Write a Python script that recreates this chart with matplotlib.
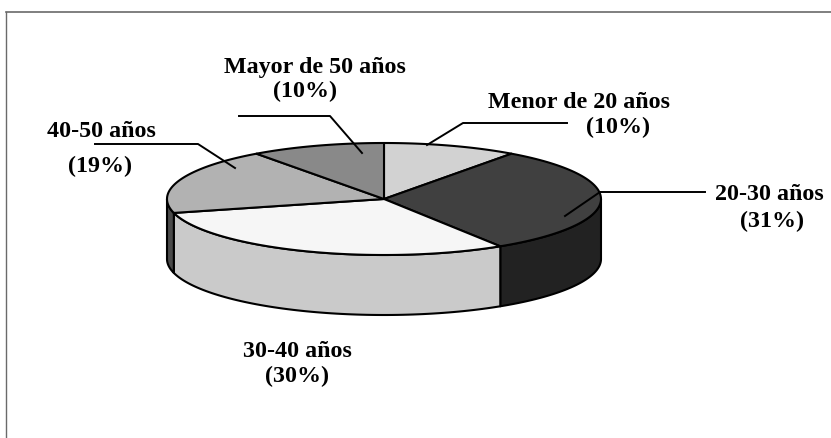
import matplotlib.pyplot as plt
import numpy as np
from matplotlib.patches import Polygon

# Age-group shares (%), clockwise from 12 o'clock
AGE_GROUPS = ["Menor de 20 años", "20-30 años", "30-40 años",
              "40-50 años", "Mayor de 50 años"]
SHARES = [10, 31, 30, 19, 10]

TOP_COLORS = ["#d2d2d2", "#404040", "#f6f6f6", "#b2b2b2", "#898989"]
SIDE_COLORS = ["#a8a8a8", "#222222", "#cacaca", "#4a4a4a", "#606060"]

# pie geometry in pixels (y grows downwards)
CX, CY, RX, RY, DEPTH = 384, 199, 217, 56, 60

# label layout in pixels: name line (x, baseline, ha), percent line (x, baseline)
NAME_POS = [(488, 108, "left"), (715, 200, "left"), (297, 357, "center"),
            (101, 137, "center"), (315, 73, "center")]
PCT_POS = [(618, 133), (772, 227), (297, 382), (100, 172), (305, 97)]
LEADERS = [
    [(427, 145), (463, 123), (567, 123)],
    [(565, 216), (600, 192), (705, 192)],
    None,
    [(235, 168), (198, 144), (95, 144)],
    [(362, 153), (330, 116), (239, 116)],
]

FONT = dict(family="Liberation Serif", weight="bold", size=17.3, color="black")


def arc(t0, t1, dy=0.0, n=80):
    t = np.radians(np.linspace(t0, t1, n))
    return np.column_stack([CX + RX * np.sin(t), CY - RY * np.cos(t) + dy])


def main():
    fig = plt.figure(figsize=(8.31, 4.38), dpi=100)
    ax = fig.add_axes([0, 0, 1, 1])
    ax.set_xlim(0, 831)
    ax.set_ylim(438, 0)
    ax.axis("off")

    # frame
    ax.plot([6, 831], [12, 12], color="#6a6a6a", lw=1.2)
    ax.plot([6, 6], [12, 438], color="#6a6a6a", lw=1.0)

    bounds = np.concatenate([[0], np.cumsum(SHARES)]) / sum(SHARES) * 360

    # side walls: only the front half (90..270 deg) is visible
    for i in range(len(SHARES)):
        a, b = max(bounds[i], 90), min(bounds[i + 1], 270)
        if a >= b:
            continue
        pts = np.vstack([arc(a, b), arc(b, a, DEPTH)])
        ax.add_patch(Polygon(pts, closed=True, fc=SIDE_COLORS[i],
                             ec="black", lw=1.5, joinstyle="round", zorder=2))

    # top faces
    for i in range(len(SHARES)):
        pts = np.vstack([[CX, CY], arc(bounds[i], bounds[i + 1])])
        ax.add_patch(Polygon(pts, closed=True, fc=TOP_COLORS[i],
                             ec="black", lw=1.5, joinstyle="round", zorder=3))

    # labels and leader lines
    for i, (name, share) in enumerate(zip(AGE_GROUPS, SHARES)):
        x, y, ha = NAME_POS[i]
        ax.text(x, y, name, ha=ha, va="baseline", **FONT)
        px, py = PCT_POS[i]
        ax.text(px, py, f"({share}%)", ha="center", va="baseline", **FONT)
        if LEADERS[i] is not None:
            lx, ly = zip(*LEADERS[i])
            ax.plot(lx, ly, color="black", lw=1.4, zorder=4)

    fig.savefig("out.png", dpi=100)


if __name__ == "__main__":
    main()
